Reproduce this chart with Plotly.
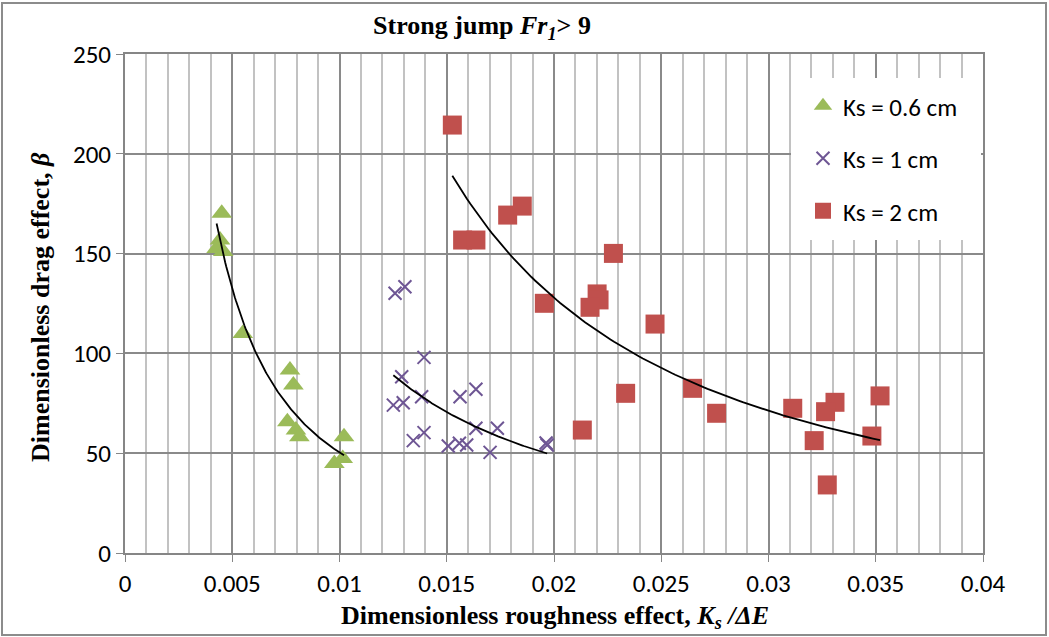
import numpy as np
import plotly.graph_objects as go

# Ks = 0.6 cm
ks06_x = [0.00451, 0.00443, 0.00427, 0.00458, 0.00549, 0.00769, 0.00785,
          0.00757, 0.00797, 0.00813, 0.01021, 0.00976, 0.01015]
ks06_y = [170.2, 156.8, 152.6, 151.0, 110.0, 91.7, 84.2,
          65.8, 61.6, 58.3, 58.3, 44.9, 47.4]

# Ks = 1 cm
ks1_x = [0.01259, 0.01305, 0.01394, 0.01290, 0.01251, 0.01297, 0.01383,
         0.01562, 0.01636, 0.01344, 0.01394, 0.01507, 0.01559, 0.01593,
         0.01636, 0.01736, 0.01702, 0.01968, 0.01963]
ks1_y = [130.1, 133.4, 98.0, 88.3, 74.1, 75.3, 78.3,
         78.3, 82.0, 56.3, 60.3, 53.6, 55.0, 54.1,
         62.5, 62.5, 50.4, 54.1, 55.1]

# Ks = 2 cm
ks2_x = [0.01526, 0.01574, 0.01636, 0.01784, 0.01852, 0.02277, 0.01955,
         0.02201, 0.02210, 0.02168, 0.02471, 0.02334, 0.02132, 0.02646,
         0.02758, 0.03113, 0.03310, 0.03266, 0.03520, 0.03213, 0.03482,
         0.03274]
ks2_y = [214.4, 156.8, 156.8, 169.3, 173.8, 150.1, 125.1,
         129.8, 126.8, 123.1, 114.7, 80.0, 61.6, 82.5,
         70.0, 72.5, 75.5, 70.8, 78.7, 56.3, 58.6,
         34.1]

x_ticks = [0, 0.005, 0.01, 0.015, 0.02, 0.025, 0.03, 0.035, 0.04]
x_tick_text = ["0", "0.005", "0.01", "0.015", "0.02", "0.025", "0.03", "0.035", "0.04"]
y_ticks = [0, 50, 100, 150, 200, 250]

GREEN = "#9BBB59"
PURPLE = "#6E5694"
RED = "#C0504D"
SANS = "Carlito, Lato, sans-serif"
TICK_FONT = dict(family=SANS, size=25, color="#000000")
SERIF = "Liberation Serif, Times New Roman, serif"


def power_fit(xs, ys, n=120):
    """Least-squares power trend y = a * x^b over the data's x span."""
    lx, ly = np.log(xs), np.log(ys)
    b, ln_a = np.polyfit(lx, ly, 1)
    xf = np.linspace(min(xs), max(xs), n)
    return xf, np.exp(ln_a) * xf ** b


fig = go.Figure()

series = [
    ("Ks = 0.6 cm", ks06_x, ks06_y, dict(symbol="triangle-up", size=18, color=GREEN)),
    ("Ks = 1 cm", ks1_x, ks1_y, dict(symbol="x-thin-open", size=13, color=PURPLE,
                                     line=dict(width=2, color=PURPLE))),
    ("Ks = 2 cm", ks2_x, ks2_y, dict(symbol="square", size=19, color=RED)),
]

for i, (name, xs, ys, mk) in enumerate(series):
    fig.add_trace(go.Scatter(x=xs, y=ys, mode="markers", name=name,
                             marker=mk, legendgroup=f"g{i}"))

for xs, ys in [(ks06_x, ks06_y), (ks1_x, ks1_y), (ks2_x, ks2_y)]:
    xf, yf = power_fit(xs, ys)
    fig.add_trace(go.Scatter(x=xf, y=yf, mode="lines", showlegend=False,
                             line=dict(color="#000000", width=1.8)))

W, H = 1049, 637
L, R, T, B = 125, 66, 54, 84
pw, ph = W - L - R, H - T - B


def px_x(p):
    return (p - L) / pw


def px_y(p):
    return (H - B - p) / ph


fig.update_layout(
    width=W, height=H,
    margin=dict(l=L, r=R, t=T, b=B, pad=0),
    paper_bgcolor="#ffffff",
    plot_bgcolor="#ffffff",
    showlegend=True,
    legend=dict(x=px_x(803), y=px_y(83), xanchor="left", yanchor="top",
                bgcolor="rgba(0,0,0,0)", borderwidth=0,
                font=dict(family=SANS, size=25, color="#000"),
                tracegroupgap=17, traceorder="grouped"),
    title=dict(text="<b>Strong jump <i>Fr<sub>1</sub></i>> 9</b>",
               x=482 / W, y=1 - 25 / H, xref="container", yref="container",
               xanchor="center", yanchor="middle",
               font=dict(family=SERIF, size=26, color="#000")),
    xaxis=dict(range=[0, 0.04], tickvals=x_ticks, ticktext=x_tick_text,
               tickfont=TICK_FONT, ticks="outside", ticklen=7, tickcolor="#868686",
               showline=True, linecolor="#868686", linewidth=2, mirror=True,
               showgrid=True, gridcolor="#8a8a8a", gridwidth=1.5,
               minor=dict(dtick=0.001, showgrid=True, gridcolor="#c2c2c2", gridwidth=1.5),
               zeroline=False, fixedrange=True),
    yaxis=dict(range=[0, 250], tickvals=y_ticks,
               tickfont=TICK_FONT, ticks="outside", ticklen=7, tickcolor="#868686",
               showline=True, linecolor="#868686", linewidth=2, mirror=True,
               showgrid=True, gridcolor="#8a8a8a", gridwidth=1.5,
               zeroline=False, fixedrange=True),
    shapes=[
        # white panel behind the legend
        dict(type="rect", xref="paper", yref="paper",
             x0=px_x(791), x1=px_x(981), y0=px_y(240), y1=px_y(78),
             fillcolor="#ffffff", line=dict(width=0), layer="above"),
        # chart frame
        dict(type="rect", xref="paper", yref="paper",
             x0=px_x(2), x1=px_x(1046), y0=px_y(635), y1=px_y(3),
             fillcolor="rgba(0,0,0,0)", line=dict(color="#8c8c8c", width=2),
             layer="above"),
    ],
    annotations=[
        dict(text="<b>Dimensionless drag effect, <i>β</i></b>", textangle=-90,
             xref="paper", yref="paper", x=px_x(40), y=px_y(307),
             xanchor="center", yanchor="middle", showarrow=False,
             font=dict(family=SERIF, size=26, color="#000")),
        dict(text="<b>Dimensionless roughness effect, <i>K<sub>s</sub> /ΔE</i></b>",
             xref="paper", yref="paper", x=px_x(555), y=px_y(617),
             xanchor="center", yanchor="middle", showarrow=False,
             font=dict(family=SERIF, size=26, color="#000")),
    ],
)

fig.write_html("out.html")
